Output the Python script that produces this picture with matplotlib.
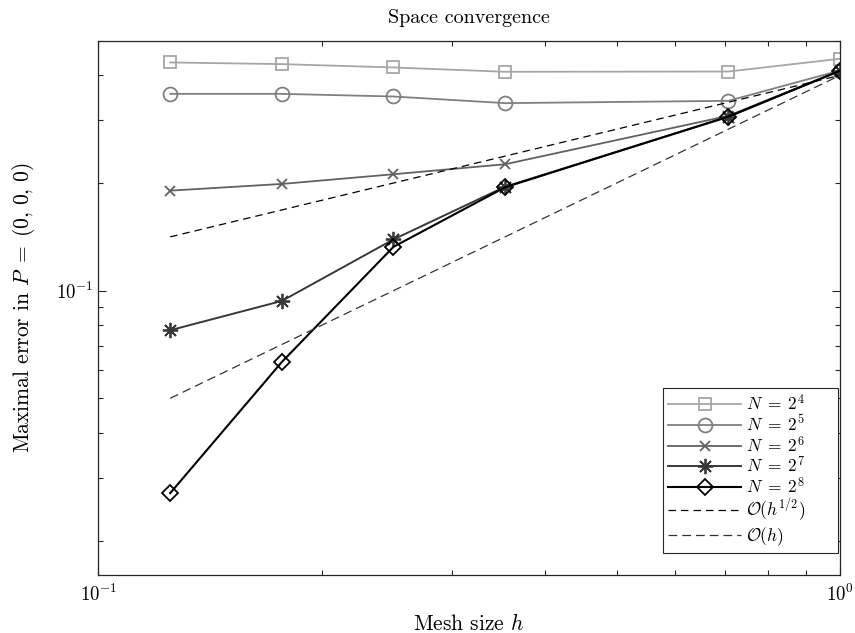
import matplotlib
matplotlib.use("Agg")
import matplotlib.pyplot as plt
import numpy as np

plt.rcParams['font.family'] = 'serif'
plt.rcParams['font.serif'] = ['cmr10']
plt.rcParams['mathtext.fontset'] = 'cm'
plt.rcParams['axes.formatter.use_mathtext'] = True
plt.rcParams['axes.unicode_minus'] = False

h = [0.125, 0.1768, 0.25, 0.3536, 0.7071, 1.0]
err_N4 = [0.4347, 0.430, 0.4209, 0.4093, 0.410, 0.4451]
err_N5 = [0.3551, 0.3551, 0.3491, 0.3345, 0.3395, 0.4127]
err_N6 = [0.1904, 0.1988, 0.2116, 0.2257, 0.3082, 0.4127]
err_N7 = [0.0775, 0.0936, 0.1391, 0.1953, 0.3062, 0.4120]
err_N8 = [0.02715, 0.0632, 0.1326, 0.1946, 0.3068, 0.4120]
ref_h = [0.125, 1.0]
ref_half = [0.1414, 0.40]
ref_one = [0.05, 0.40]

labels = [r'$N\;=\;2^4$', r'$N\;=\;2^5$', r'$N\;=\;2^6$', r'$N\;=\;2^7$', r'$N\;=\;2^8$',
          r'$\mathcal{O}(h^{1/2})$', r'$\mathcal{O}(h)$']

fig = plt.figure(figsize=(8.55, 6.33), dpi=100)
ax = fig.add_axes([0.115, 0.0912, 0.8675, 0.8445])

ax.plot(h, err_N4, '-', color='0.65', marker='s', ms=8, mfc='none', mew=1.3, lw=1.3, label=labels[0])
ax.plot(h, err_N5, '-', color='0.5', marker='o', ms=10, mfc='none', mew=1.3, lw=1.3, label=labels[1])
ax.plot(h, err_N6, '-', color='0.38', marker='x', ms=7, mfc='none', mew=1.3, lw=1.3, label=labels[2])
ax.plot(h, err_N7, '-', color='0.22', marker=(8, 2, 0), ms=11, mfc='none', mew=1.3, lw=1.4, label=labels[3])
ax.plot(h, err_N8, '-', color='black', marker='D', ms=8, mfc='none', mew=1.3, lw=1.5, label=labels[4])
ax.plot(ref_h, ref_half, '--', color='black', lw=0.9, dashes=(6, 4), label=labels[5])
ax.plot(ref_h, ref_one, '--', color='0.2', lw=0.9, dashes=(7, 4), label=labels[6])

ax.set_xscale('log')
ax.set_yscale('log')
ax.set_xlim(0.1, 1.0)
ax.set_ylim(0.016, 0.5)

ax.tick_params(which='both', direction='in', top=True, right=True, colors='0.15', labelcolor='black', labelsize=13.5)
ax.tick_params(which='major', length=6, width=0.8)
ax.tick_params(which='minor', length=3.6, width=0.8)
ax.tick_params(axis='x', pad=6)
for sp in ax.spines.values():
    sp.set_color('0.15')
    sp.set_linewidth(0.9)
ax.yaxis.set_minor_formatter(matplotlib.ticker.NullFormatter())
ax.xaxis.set_minor_formatter(matplotlib.ticker.NullFormatter())

ax.set_title('Space convergence', fontsize=14.5, pad=13)
ax.set_xlabel(r'Mesh size $h$', fontsize=15.5, labelpad=6)
ax.set_ylabel(r'Maximal error in $P\;=\;(0,\,0,\,0)$', fontsize=15.5, labelpad=14)

leg = ax.legend(loc='lower left', bbox_to_anchor=(0.7614, 0.0417, 0.2356, 0.3), mode='expand',
                fontsize=12.5, handlelength=4.2,
                frameon=True, fancybox=False, framealpha=1, edgecolor='0.15', borderpad=0.3,
                labelspacing=0.04, handletextpad=0.3, borderaxespad=0)
leg.get_frame().set_linewidth(0.8)

fig.savefig('out.png', dpi=100)
